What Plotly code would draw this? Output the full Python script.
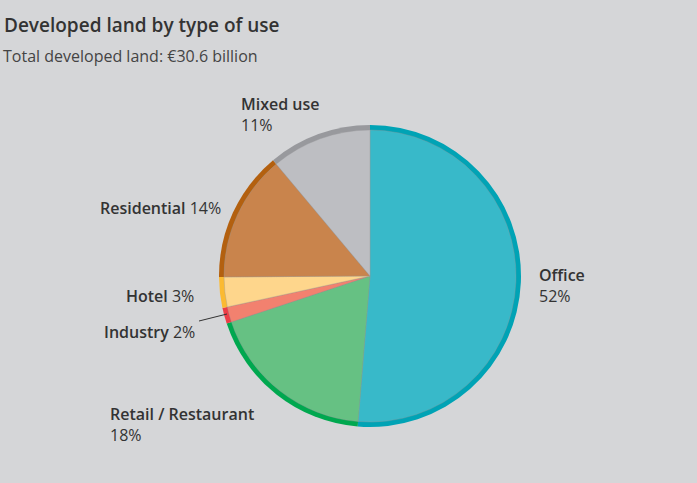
import plotly.graph_objects as go

W, H = 697, 483

labels = ['Office', 'Retail / Restaurant', 'Industry', 'Hotel', 'Residential', 'Mixed use']
shares = [51.3, 18.6, 1.7, 3.3, 14.0, 11.1]          # share of €30.6bn
pct_text = ['52%', '18%', '2%', '3%', '14%', '11%']  # as printed on the chart
fill_colors = ['#38b9c9', '#66c183', '#f2816f', '#fed68c', '#c9844c', '#bdbec2']
edge_colors = ['#00a3b5', '#00a84f', '#ec3d46', '#fbba32', '#b3600f', '#98999d']


def sb(s):
    return "<span style='font-weight:600'>" + s + "</span>"


# label anchor (pixels), alignment, and whether the percent goes on a new line
label_pos = [(537, 262, 'left', True), (108, 401, 'left', True), (197, 319, 'right', False),
             (196, 283, 'right', False), (223, 195, 'right', False), (239, 91, 'left', True)]

BG = '#d5d6d8'
cx, cy, r, ring = 370, 276, 151, 5


def dom(rad):
    return dict(x=[(cx - rad) / W, (cx + rad) / W], y=[1 - (cy + rad) / H, 1 - (cy - rad) / H])


fig = go.Figure()
fig.add_trace(go.Pie(labels=labels, values=shares, sort=False, direction='clockwise', rotation=0,
                     marker=dict(colors=edge_colors, line=dict(width=0)), textinfo='none',
                     hoverinfo='skip', showlegend=False, domain=dom(r)))
fig.add_trace(go.Pie(labels=labels, values=shares, sort=False, direction='clockwise', rotation=0,
                     marker=dict(colors=fill_colors, line=dict(width=0.6, color='rgba(150,150,155,0.6)')),
                     textinfo='none', hoverinfo='label+percent', showlegend=False, domain=dom(r - ring)))

annotations = [
    dict(text=sb('Developed land by type of use'), x=2 / W, y=1 - 10 / H, xref='paper', yref='paper',
         xanchor='left', yanchor='top', showarrow=False, font=dict(size=19, color='#333333')),
    dict(text='Total developed land: €30.6 billion', x=1 / W, y=1 - 43 / H, xref='paper', yref='paper',
         xanchor='left', yanchor='top', showarrow=False, font=dict(size=16, color='#444444')),
]
for name, pct, (px_, py_, align, br) in zip(labels, pct_text, label_pos):
    txt = sb(name) + ('<br>' if br else ' ') + pct
    annotations.append(dict(text=txt, x=px_ / W, y=1 - py_ / H, xref='paper', yref='paper',
                            xanchor=align, yanchor='top', align=align, showarrow=False,
                            font=dict(size=16, color='#333333')))

fig.update_layout(
    width=W, height=H,
    paper_bgcolor=BG, plot_bgcolor=BG,
    margin=dict(l=0, r=0, t=0, b=0),
    font=dict(family='Open Sans, Noto Sans, sans-serif', color='#333333'),
    annotations=annotations,
    shapes=[dict(type='line', xref='paper', yref='paper', x0=199 / W, y0=1 - 321 / H,
                 x1=227 / W, y1=1 - 314 / H, line=dict(color='#333333', width=1))],
)

fig.write_html("out.html", config={'displayModeBar': False},
               post_script="document.body.style.margin='0';")
